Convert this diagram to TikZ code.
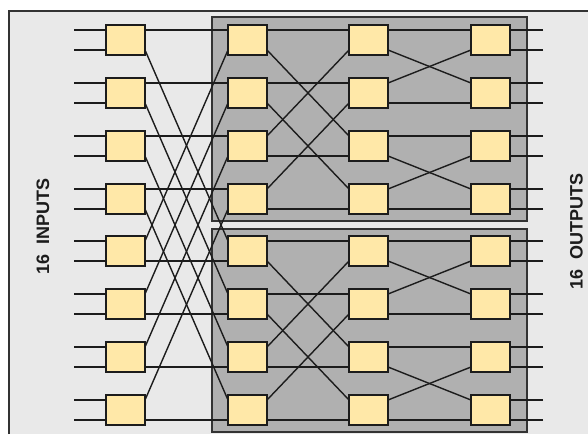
\documentclass[tikz,border=0pt]{standalone}
\usepackage{fontspec}
\setmainfont{Liberation Sans}
\definecolor{pagebg}{HTML}{E9E9E9}
\definecolor{panelbg}{HTML}{B0B0B0}
\definecolor{boxfill}{HTML}{FFE8A8}
\definecolor{inkc}{HTML}{1C1C1C}
\definecolor{panelline}{HTML}{333333}
\tikzset{
  switchbox/.style={draw=inkc,fill=boxfill,line width=1.4pt,minimum width=39pt,minimum height=30pt,inner sep=0pt,outer sep=0pt},
  panelbox/.style={draw=panelline,fill=panelbg,line width=1.4pt},
  wire/.style={draw=inkc,line width=1.4pt},
  sidelabel/.style={font=\bfseries\fontsize{18}{18}\selectfont,rotate=90,text=inkc,inner sep=0pt},
  pu/.style={yshift=10pt},
  pd/.style={yshift=-10pt}
}
\begin{document}
\begin{tikzpicture}[x=1pt,y=-1pt]
\useasboundingbox (0,0) rectangle (588,434);
\fill[white] (0,0) rectangle (588,434);
\fill[pagebg] (9,11) rectangle (588,434);
\draw[panelline,line width=1.4pt] (9,434) -- (9,11) -- (588,11);
\draw[panelbox] (212,17) rectangle (527,221);
\draw[panelbox] (212,229) rectangle (527,432);
\foreach \c/\x in {a/125.5,b/247.5,c/368.5,d/490.5}{
  \foreach \r/\y in {1/40,2/93,3/146,4/199,5/251,6/304,7/357,8/410}{
    \node[switchbox] (\c\r) at (\x,\y) {};
  }
}
\foreach \r in {1,...,8}{
  \coordinate (iu\r) at ([xshift=-32pt,yshift=10pt]a\r.west);
  \coordinate (id\r) at ([xshift=-32pt,yshift=-10pt]a\r.west);
  \coordinate (ou\r) at ([xshift=33pt,yshift=10pt]d\r.east);
  \coordinate (od\r) at ([xshift=33pt,yshift=-10pt]d\r.east);
  \draw[wire] (iu\r) -- ([pu]a\r.west);
  \draw[wire] (id\r) -- ([pd]a\r.west);
  \draw[wire] (ou\r) -- ([pu]d\r.east);
  \draw[wire] (od\r) -- ([pd]d\r.east);
}
% first stage
\foreach \r/\s in {1/5,2/6,3/7,4/8}{
  \draw[wire] ([pu]a\r.east) -- ([pu]b\r.west);
  \draw[wire] ([pd]a\s.east) -- ([pd]b\s.west);
  \draw[wire] ([pd]a\r.east) -- ([pu]b\s.west);
  \draw[wire] ([pu]a\s.east) -- ([pd]b\r.west);
}
% second stage
\foreach \p/\q in {1/3,2/4,5/7,6/8}{
  \draw[wire] ([pu]b\p.east) -- ([pu]c\p.west);
  \draw[wire] ([pd]b\q.east) -- ([pd]c\q.west);
  \draw[wire] ([pd]b\p.east) -- ([pu]c\q.west);
  \draw[wire] ([pu]b\q.east) -- ([pd]c\p.west);
}
% third stage
\foreach \p/\q in {1/2,3/4,5/6,7/8}{
  \draw[wire] ([pu]c\p.east) -- ([pu]d\p.west);
  \draw[wire] ([pd]c\q.east) -- ([pd]d\q.west);
  \draw[wire] ([pd]c\p.east) -- ([pu]d\q.west);
  \draw[wire] ([pu]c\q.east) -- ([pd]d\p.west);
}
\node[sidelabel] (inlabel) at (43,226) {16\ \ INPUTS};
\node[sidelabel] (outlabel) at (576.5,231.5) {16\ \ OUTPUTS};
\end{tikzpicture}
\end{document}
